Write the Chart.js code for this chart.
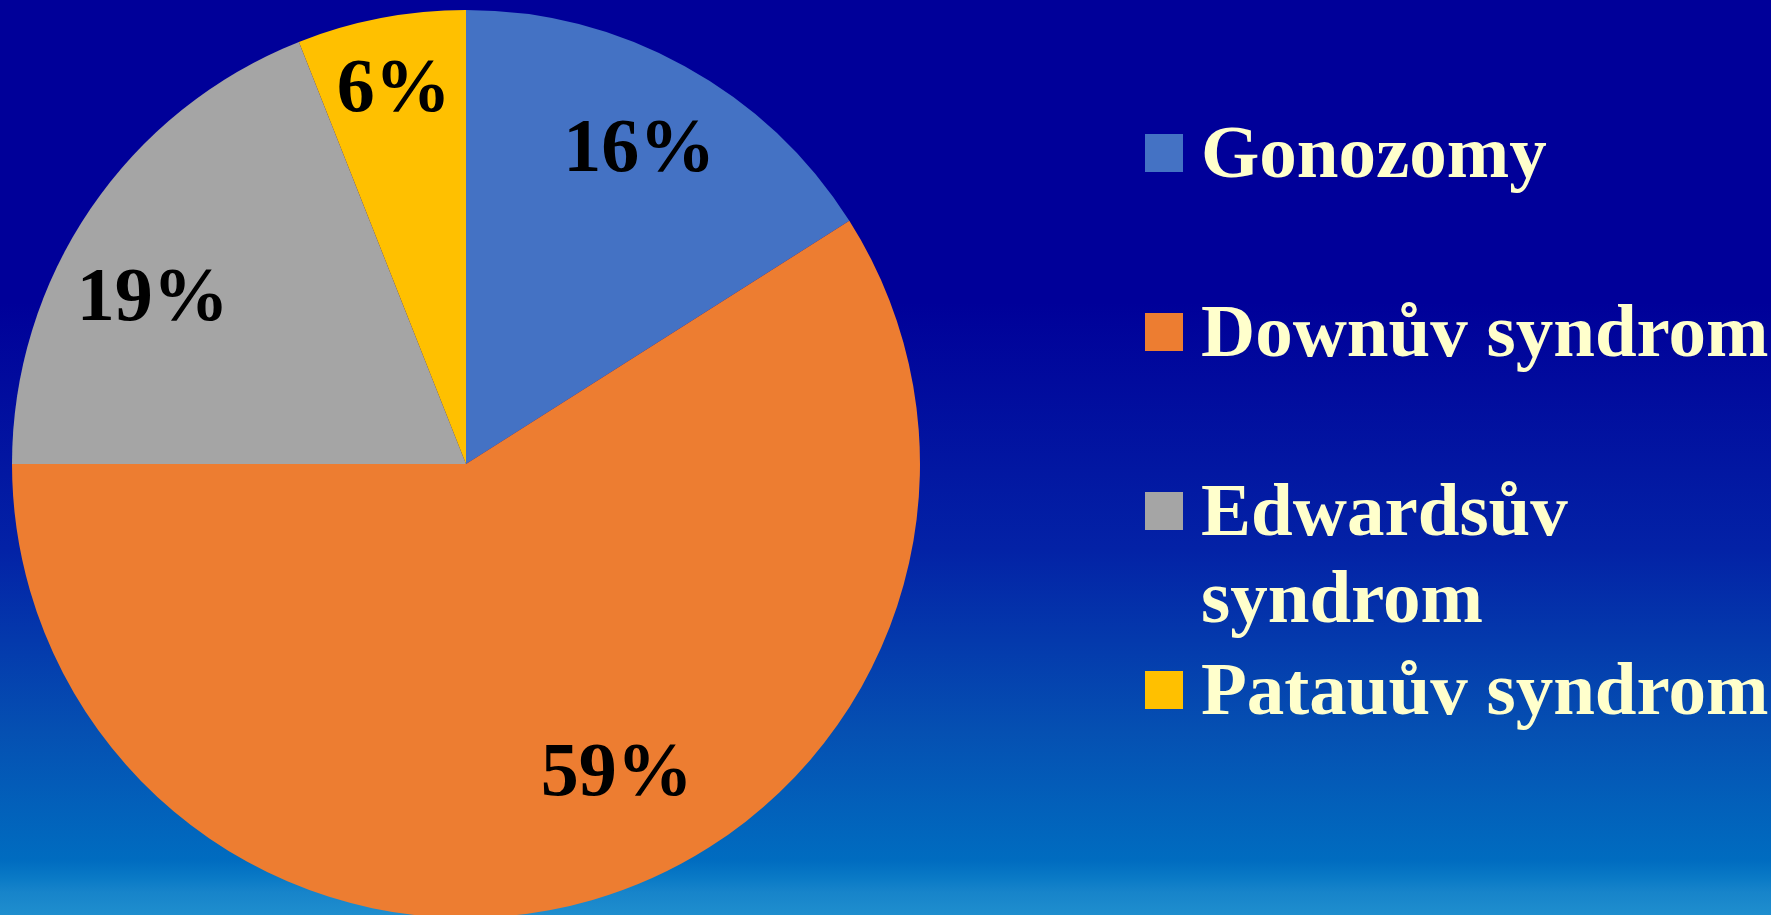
<!DOCTYPE html>
<html>
<head>
<meta charset="utf-8">
<script src="https://cdn.jsdelivr.net/npm/chart.js@4/dist/chart.umd.min.js"></script>
<style>
  html, body { margin: 0; padding: 0; width: 1771px; height: 915px; overflow: hidden; }
  body {
    background: linear-gradient(to bottom,
      #000099 0%, #000099 33%, #0322A6 60%, #0550B2 80%, #006CC0 94%, #0A7AC6 96%, #1784CA 97.5%, #1F8ECE 100%);
  }
  #wrap { position: absolute; left: 0; top: 0; width: 1771px; height: 928px; }
</style>
</head>
<body>
<div id="wrap"><canvas id="c"></canvas></div>
<script>
const categories = ["Gonozomy", "Downův syndrom", "Edwardsův syndrom", "Patauův syndrom"];
const legendLines = [["Gonozomy"], ["Downův syndrom"], ["Edwardsův", "syndrom"], ["Patauův syndrom"]];
const values = [16, 59, 19, 6];
const percentLabels = ["16%", "59%", "19%", "6%"];
const sliceColors = ["#4472C4", "#ED7D31", "#A5A5A5", "#FFC000"];

// label placement styling: fraction of radius and angular shift (degrees) from slice middle
const labelRadiusFrac = [0.80, 0.75, 0.785, 0.85];
const labelAngleShift = [-0.3, -10.1, -5.7, 0];

const labelPlugin = {
  id: 'sliceLabels',
  afterDatasetsDraw(chart) {
    const ctx = chart.ctx;
    const meta = chart.getDatasetMeta(0);
    ctx.save();
    ctx.font = 'bold 76px "Liberation Serif", "Times New Roman", serif';
    ctx.fillStyle = '#000000';
    ctx.textAlign = 'center';
    ctx.textBaseline = 'alphabetic';
    meta.data.forEach((arc, i) => {
      const p = arc.getProps(['x', 'y', 'startAngle', 'endAngle', 'outerRadius'], true);
      const mid = (p.startAngle + p.endAngle) / 2 + labelAngleShift[i] * Math.PI / 180;
      const r = p.outerRadius * labelRadiusFrac[i];
      const x = p.x + Math.cos(mid) * r;
      const y = p.y + Math.sin(mid) * r;
      ctx.fillText(percentLabels[i], x, y + 26);
    });
    ctx.restore();
  }
};

const legendPlugin = {
  id: 'sideLegend',
  afterDraw(chart) {
    const ctx = chart.ctx;
    const ds = chart.data.datasets[0];
    ctx.save();
    ctx.font = 'bold 75px "Liberation Serif", "Times New Roman", serif';
    ctx.textAlign = 'left';
    ctx.textBaseline = 'alphabetic';
    const boxX = 1145, textX = 1201, box = 38;
    let base = 177;
    legendLines.forEach((lines, i) => {
      ctx.fillStyle = ds.backgroundColor[i];
      ctx.fillRect(boxX, base - 5 - box, box, box);
      ctx.fillStyle = '#FFFFCC';
      lines.forEach((t, j) => ctx.fillText(t, textX, base + j * 87));
      base += 179;
    });
    ctx.restore();
  }
};

new Chart(document.getElementById('c'), {
  type: 'pie',
  data: {
    labels: categories,
    datasets: [{
      data: values,
      backgroundColor: sliceColors,
      borderWidth: 0,
      hoverOffset: 0
    }]
  },
  options: {
    responsive: true,
    maintainAspectRatio: false,
    animation: false,
    layout: { padding: { left: 12, top: 10, right: 851, bottom: 10 } },
    plugins: {
      legend: { display: false },
      tooltip: { enabled: false }
    }
  },
  plugins: [labelPlugin, legendPlugin]
});
</script>
</body>
</html>
